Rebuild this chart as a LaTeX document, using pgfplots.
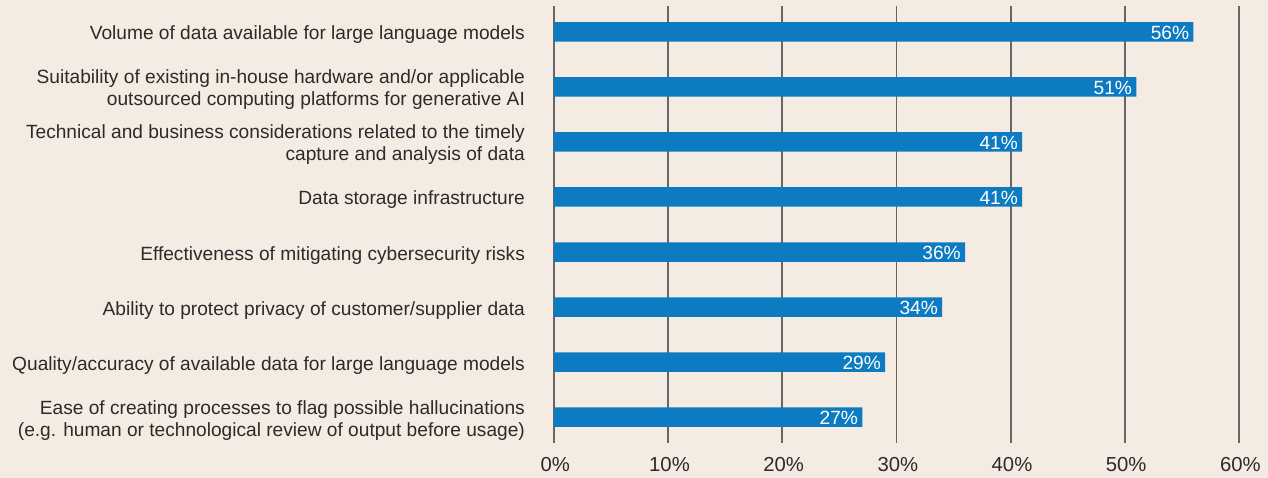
\documentclass[border=0pt]{standalone}
\usepackage{fontspec}
\setmainfont{Liberation Sans}
\usepackage{pgfplots}
\pgfplotsset{compat=1.18}
\definecolor{bgc}{HTML}{F4EBE2}
\definecolor{barc}{HTML}{0D7BC1}
\definecolor{gridc}{HTML}{666666}
\definecolor{txtc}{HTML}{2B2B2B}
\newcommand{\lblfont}{\fontsize{14.35pt}{16.5pt}\selectfont}
\newcommand{\tckfont}{\fontsize{15.2pt}{17pt}\selectfont}
\begin{document}
\begin{tikzpicture}
\fill[bgc] (0,0) rectangle (951pt,358.5pt);
\begin{axis}[
    at={(415.5pt,26.25pt)}, anchor=south west,
    scale only axis,
    width=513.75pt, height=327.75pt,
    xbar, bar width=14.6pt,
    xmin=0, xmax=60,
    ymin=-0.47, ymax=7.47,
    y dir=reverse,
    axis line style={draw=none},
    major tick length=0pt,
    xmajorgrids=true,
    grid style={gridc, line width=1.4pt},
    /pgf/number format/assume math mode=true,
    xtick={0,10,...,60},
    xticklabels={0\%,10\%,20\%,30\%,40\%,50\%,60\%},
    ytick={0,...,7},
    yticklabels={
      Volume of data available for large language models,
      Suitability of existing in-house hardware and/or applicable\\outsourced computing platforms for generative AI,
      Technical and business considerations related to the timely\\capture and analysis of data,
      Data storage infrastructure,
      Effectiveness of mitigating cybersecurity risks,
      Ability to protect privacy of customer/supplier data,
      Quality/accuracy of available data for large language models,
      Ease of creating processes to flag possible hallucinations\\(e.g. human or technological review of output before usage)},
    yticklabel style={font=\lblfont, align=right, text=txtc, xshift=-18.3pt, yshift=-2.3pt},
    xticklabel style={font=\tckfont, text=txtc, yshift=-7.5pt, xshift=1pt},
    point meta=x,
    nodes near coords={\pgfmathprintnumber{\pgfplotspointmeta}\%},
    nodes near coords style={anchor=east, text=white, font=\lblfont, inner sep=3pt, yshift=-0.5pt},
]
\addplot[fill=barc, draw=none] coordinates {(56,0) (51,1) (41,2) (41,3) (36,4) (34,5) (29,6) (27,7)};
\end{axis}
\pgfresetboundingbox
\useasboundingbox (0,0) rectangle (951pt,358.5pt);
\end{tikzpicture}
\end{document}
